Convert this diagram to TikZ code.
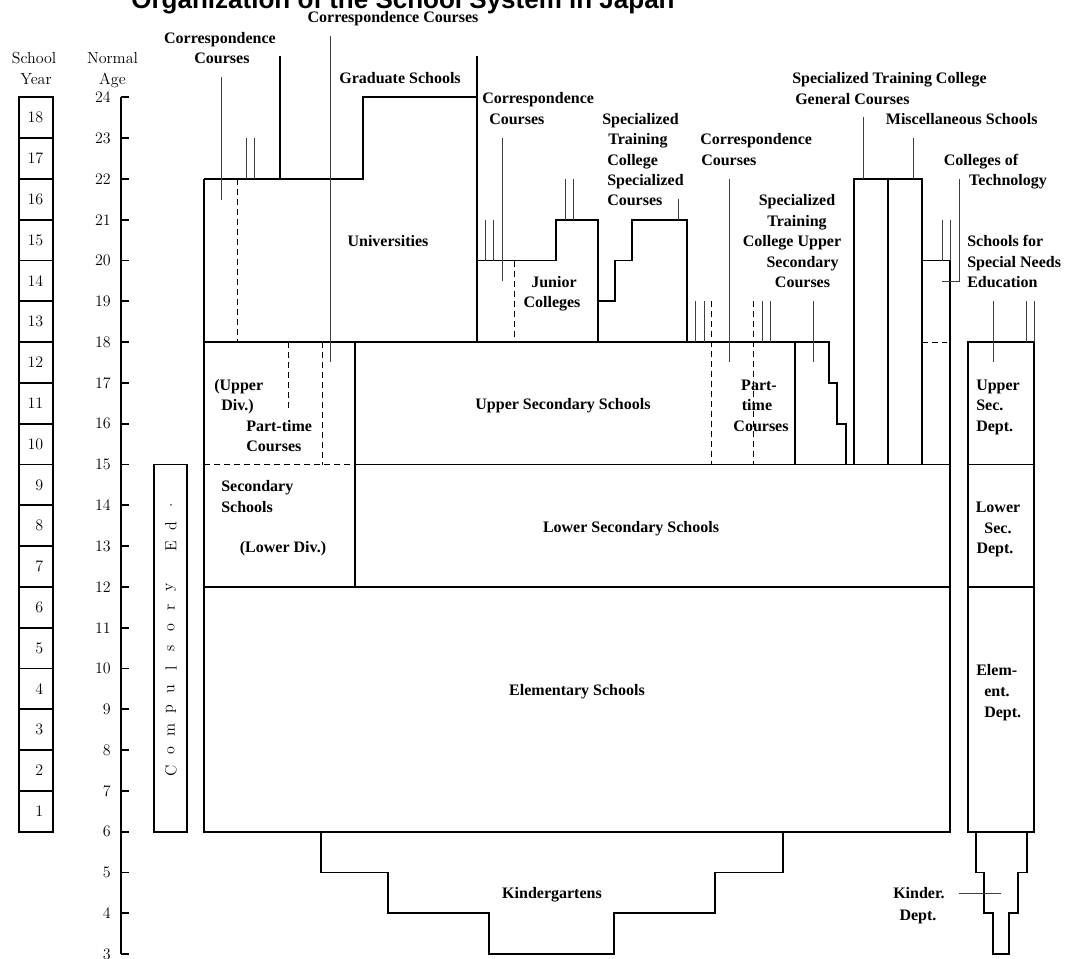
\documentclass[tikz,border=0pt]{standalone}
\usepackage{fontspec}
\setmainfont{Liberation Serif}
\newfontfamily\lmfont{Latin Modern Roman}
\newfontfamily\titlefont{Liberation Sans}
\begin{document}
\begin{tikzpicture}[x=0.75pt,y=-0.75pt,
  declare function={Y(\a)=97.3+(24-\a)*40.8;},
  bx/.style={line width=1.3pt,line join=miter},
  tn/.style={line width=0.6pt,draw=black!75},
  dsh/.style={line width=0.7pt,dash pattern=on 4.5pt off 3pt},
  lab/.style={font=\bfseries\fontsize{12}{14}\selectfont,inner sep=0pt},
  num/.style={font=\lmfont\fontsize{12}{14}\selectfont,inner sep=0pt},
  ttl/.style={font=\titlefont\bfseries\fontsize{19.5}{22}\selectfont,inner sep=0pt}]
\clip (0,0) rectangle (1067,958);
\fill[white] (0,0) rectangle (1067,958);
% title
\node[ttl,anchor=base] (title) at (403,8) {Organization of the School System in Japan};
% headers
\node[num,anchor=base] (hs1) at (34,63) {School};
\node[num,anchor=base] (hs2) at (36,84) {Year};
\node[num,anchor=base] (ha1) at (112.5,63) {Normal};
\node[num,anchor=base] (ha2) at (112.5,84) {Age};
% school year boxes
\foreach \i in {1,...,18} {
  \draw[bx] (19,{Y(\i+5)}) rectangle (53,{Y(\i+6)});
  \node[num,anchor=east] (sy\i) at (43.5,{Y(\i+5.5)}) {\i};
}
% age axis
\draw[bx] (121,{Y(24)}) -- (121,{Y(3)});
\foreach \a in {3,...,24} {
  \draw[bx] (121,{Y(\a)}) -- (129,{Y(\a)});
  \node[num,anchor=east] (age\a) at (111,{Y(\a)}) {\a};
}
% compulsory education
\draw[bx] (154,{Y(15)}) rectangle (187,{Y(6)});
\foreach \c [count=\k from 0] in {C,o,m,p,u,l,s,o,r,y,{},E,d,.} {
  \node[num,rotate=90] (ce\k) at (171,{Y(7.5+0.5*\k)}) {\c};
}
% ---------- main structure ----------
\draw[bx] (204,{Y(12)}) rectangle (950,{Y(6)});
\draw[bx] (204,{Y(22)}) -- (204,{Y(12)});
\draw[bx] (355,{Y(18)}) -- (355,{Y(12)});
\draw[bx] (355,{Y(15)}) -- (950,{Y(15)});
\draw[bx] (204,{Y(18)}) -- (829,{Y(18)}) -- (829,{Y(17)}) -- (837,{Y(17)}) -- (837,{Y(16)}) -- (846,{Y(16)}) -- (846,{Y(15)});
\draw[bx] (795,{Y(18)}) -- (795,{Y(15)});
\draw[bx] (854,{Y(15)}) -- (854,{Y(22)}) -- (922,{Y(22)}) -- (922,{Y(15)});
\draw[bx] (888,{Y(22)}) -- (888,{Y(15)});
\draw[bx] (922,{Y(20)}) -- (950,{Y(20)}) -- (950,{Y(12)});
% universities / graduate
\draw[bx] (204,{Y(22)}) -- (363,{Y(22)}) -- (363,{Y(24)}) -- (477,{Y(24)});
\draw[bx] (477,56) -- (477,{Y(18)});
\draw[bx] (280,56) -- (280,{Y(22)});
% junior colleges
\draw[bx] (477,{Y(20)}) -- (556,{Y(20)}) -- (556,{Y(21)}) -- (598,{Y(21)}) -- (598,{Y(18)});
% STC specialized
\draw[bx] (598,{Y(19)}) -- (615,{Y(19)}) -- (615,{Y(20)}) -- (632,{Y(20)}) -- (632,{Y(21)}) -- (687,{Y(21)}) -- (687,{Y(18)});
% special needs
\draw[bx] (968,{Y(18)}) rectangle (1034,{Y(6)});
\draw[bx] (968,{Y(15)}) -- (1034,{Y(15)});
\draw[bx] (968,{Y(12)}) -- (1034,{Y(12)});
\draw[bx] (976,{Y(6)}) -- (976,{Y(5)}) -- (984,{Y(5)}) -- (984,{Y(4)}) -- (993,{Y(4)}) -- (993,{Y(3)}) -- (1009,{Y(3)}) -- (1009,{Y(4)}) -- (1018,{Y(4)}) -- (1018,{Y(5)}) -- (1027,{Y(5)}) -- (1027,{Y(6)});
% kindergartens
\draw[bx] (321,{Y(6)}) -- (321,{Y(5)}) -- (388,{Y(5)}) -- (388,{Y(4)}) -- (489,{Y(4)}) -- (489,{Y(3)}) -- (614,{Y(3)}) -- (614,{Y(4)}) -- (715,{Y(4)}) -- (715,{Y(5)}) -- (783,{Y(5)}) -- (783,{Y(6)});
% ---------- thin lines ----------
\draw[tn] (221,77) -- (221,200);
\draw[tn] (246,{Y(23)}) -- (246,{Y(22)});
\draw[tn] (254,{Y(23)}) -- (254,{Y(22)});
\draw[tn] (330,36) -- (330,362);
\draw[tn] (485,{Y(21)}) -- (485,{Y(20)});
\draw[tn] (493,{Y(21)}) -- (493,{Y(20)});
\draw[tn] (565,{Y(22)}) -- (565,{Y(21)});
\draw[tn] (573,{Y(22)}) -- (573,{Y(21)});
\draw[tn] (502,138) -- (502,281);
\draw[tn] (678,199) -- (678,{Y(21)});
\draw[tn] (695,{Y(19)}) -- (695,{Y(18)});
\draw[tn] (704,{Y(19)}) -- (704,{Y(18)});
\draw[tn] (729,179) -- (729,362);
\draw[tn] (762,{Y(19)}) -- (762,{Y(18)});
\draw[tn] (770,{Y(19)}) -- (770,{Y(18)});
\draw[tn] (813,{Y(19)}) -- (813,362);
\draw[tn] (863,117) -- (863,{Y(22)});
\draw[tn] (913,138) -- (913,{Y(22)});
\draw[tn] (942,{Y(21)}) -- (942,{Y(20)});
\draw[tn] (950,{Y(21)}) -- (950,{Y(20)});
\draw[tn] (959,179) -- (959,281) -- (942,281);
\draw[tn] (993,{Y(19)}) -- (993,362);
\draw[tn] (1026,{Y(19)}) -- (1026,{Y(18)});
\draw[tn] (1034,{Y(19)}) -- (1034,{Y(18)});
\draw[tn] (959,893) -- (1001,893);
% ---------- dashed ----------
\draw[dsh] (237,{Y(22)}) -- (237,{Y(18)});
\draw[dsh] (288,{Y(18)}) -- (288,412);
\draw[dsh] (322,{Y(18)}) -- (322,{Y(15)});
\draw[dsh] (204,{Y(15)}) -- (355,{Y(15)});
\draw[dsh] (514,{Y(20)}) -- (514,{Y(18)});
\draw[dsh] (711,{Y(19)}) -- (711,{Y(15)});
\draw[dsh] (753,{Y(19)}) -- (753,{Y(15)});
\draw[dsh] (922,{Y(18)}) -- (947,{Y(18)});
% ---------- labels ----------
\node[lab,anchor=base] (l1) at (393,22) {Correspondence Courses};
\node[lab,anchor=base] (l2a) at (220,43) {Correspondence};
\node[lab,anchor=base] (l2b) at (222,63) {Courses};
\node[lab,anchor=base] (l3) at (400,83) {Graduate Schools};
\node[lab,anchor=base] (l4) at (388,246) {Universities};
\node[lab,anchor=base west] (l5a) at (482,103) {Correspondence};
\node[lab,anchor=base west] (l5b) at (489,124) {Courses};
\node[lab,anchor=base west] (l6a) at (602,124) {Specialized};
\node[lab,anchor=base west] (l6b) at (608,144) {Training};
\node[lab,anchor=base west] (l6c) at (607,165) {College};
\node[lab,anchor=base west] (l6d) at (607,185) {Specialized};
\node[lab,anchor=base west] (l6e) at (607,205) {Courses};
\node[lab,anchor=base] (l7a) at (554,287) {Junior};
\node[lab,anchor=base] (l7b) at (552,307) {Colleges};
\node[lab,anchor=base west] (l8a) at (700,144) {Correspondence};
\node[lab,anchor=base west] (l8b) at (701,165) {Courses};
\node[lab,anchor=base] (l9a) at (797,205) {Specialized};
\node[lab,anchor=base] (l9b) at (797,226) {Training};
\node[lab,anchor=base] (l9c) at (792,246) {College Upper};
\node[lab,anchor=base] (l9d) at (802.5,267) {Secondary};
\node[lab,anchor=base] (l9e) at (802.5,287) {Courses};
\node[lab,anchor=base west] (l10a) at (792,83) {Specialized Training College};
\node[lab,anchor=base west] (l10b) at (795,104) {General Courses};
\node[lab,anchor=base] (l11) at (961.7,124) {Miscellaneous Schools};
\node[lab,anchor=base] (l12a) at (981,165) {Colleges of};
\node[lab,anchor=base] (l12b) at (1008,185) {Technology};
\node[lab,anchor=base west] (l13a) at (967,246) {Schools for};
\node[lab,anchor=base west] (l13b) at (967,267) {Special Needs};
\node[lab,anchor=base west] (l13c) at (967,287) {Education};
\node[lab,anchor=base] (l14) at (563,409) {Upper Secondary Schools};
\node[lab,anchor=base] (l15a) at (759,390) {Part-};
\node[lab,anchor=base] (l15b) at (757,410) {time};
\node[lab,anchor=base] (l15c) at (761,431) {Courses};
\node[lab,anchor=base west] (l16a) at (214,390) {(Upper};
\node[lab,anchor=base west] (l16b) at (221,410) {Div.)};
\node[lab,anchor=base west] (l17a) at (246,431) {Part-time};
\node[lab,anchor=base west] (l17b) at (246,451) {Courses};
\node[lab,anchor=base west] (l18a) at (221,491) {Secondary};
\node[lab,anchor=base west] (l18b) at (221,512) {Schools};
\node[lab,anchor=base] (l19) at (283,552) {(Lower Div.)};
\node[lab,anchor=base] (l20) at (631,532) {Lower Secondary Schools};
\node[lab,anchor=base] (l21) at (577,695) {Elementary Schools};
\node[lab,anchor=base] (l22) at (552,898) {Kindergartens};
\node[lab,anchor=base west] (l23a) at (976,390) {Upper};
\node[lab,anchor=base west] (l23b) at (976,410) {Sec.};
\node[lab,anchor=base west] (l23c) at (976,431) {Dept.};
\node[lab,anchor=base] (l24a) at (998,512) {Lower};
\node[lab,anchor=base] (l24b) at (998,533) {Sec.};
\node[lab,anchor=base] (l24c) at (995,553) {Dept.};
\node[lab,anchor=base west] (l25a) at (976,675) {Elem-};
\node[lab,anchor=base west] (l25b) at (984,696) {ent.};
\node[lab,anchor=base west] (l25c) at (984,717) {Dept.};
\node[lab,anchor=base] (l26a) at (919,898) {Kinder.};
\node[lab,anchor=base] (l26b) at (918,920) {Dept.};
\end{tikzpicture}
\end{document}
